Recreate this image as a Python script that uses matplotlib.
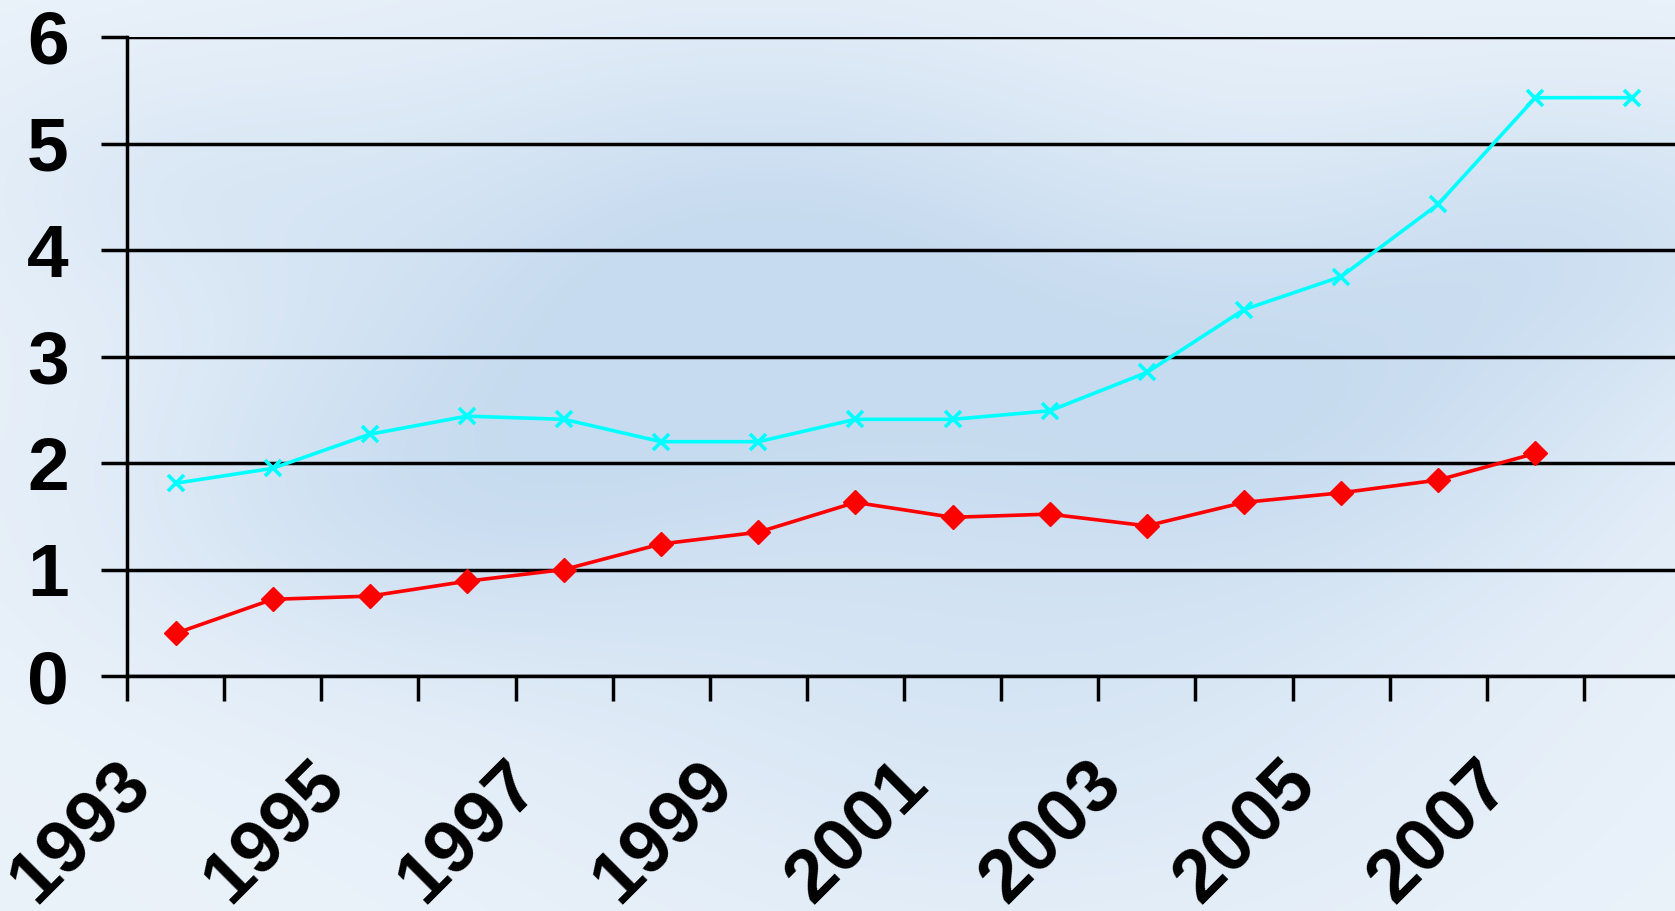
import numpy as np
import matplotlib
matplotlib.use("Agg")
import matplotlib.pyplot as plt
from matplotlib.transforms import ScaledTranslation

years = [str(y) for y in range(1993, 2009)]
cyan_values = [1.81, 1.95, 2.27, 2.44, 2.41, 2.20, 2.20, 2.41, 2.41, 2.49, 2.85, 3.44, 3.75, 4.43, 5.43, 5.43]
red_values = [0.40, 0.72, 0.75, 0.89, 1.00, 1.24, 1.35, 1.63, 1.49, 1.52, 1.41, 1.63, 1.72, 1.84, 2.09, np.nan]
y_ticks = [0, 1, 2, 3, 4, 5, 6]
label_years = [str(y) for y in range(1993, 2009, 2)]

plt.rcParams['font.family'] = ['Liberation Sans', 'DejaVu Sans']

W, H, DPI = 1675, 911, 100
fig = plt.figure(figsize=(W / DPI, H / DPI), dpi=DPI)

# background: soft light-blue sky-like gradient
yy, xx = np.mgrid[0:1:200j, 0:1:360j]
light = np.array([0.92, 0.95, 0.98])
blue = np.array([0.78, 0.86, 0.94])
field = np.zeros_like(xx)
blobs = [(0.45, 0.70, 0.18, 1.0), (0.78, 0.55, 0.15, 0.7), (0.25, 0.45, 0.14, 0.6),
         (0.60, 0.25, 0.20, 0.5), (0.95, 0.75, 0.12, 0.6), (0.10, 0.80, 0.10, 0.3)]
for cx, cy, r, a in blobs:
    field += a * np.exp(-((xx - cx) ** 2 + (yy - cy) ** 2) / (2 * r ** 2))
field = np.clip(field, 0, 1)
img = light[None, None, :] * (1 - field[..., None]) + blue[None, None, :] * field[..., None]
bg = fig.add_axes([0, 0, 1, 1], zorder=0)
bg.imshow(img, extent=[0, 1, 0, 1], origin='lower', aspect='auto', interpolation='bicubic')
bg.axis('off')

ax = fig.add_axes([127 / W, 1 - 676 / H, (1681 - 127) / W, (676 - 37) / H], zorder=1)
ax.patch.set_alpha(0)

x = np.arange(len(years))
lw = 2.6
ax.plot(x, cyan_values, color='#00ffff', lw=lw, marker='x', ms=11.5, mew=2.6, zorder=4, clip_on=False)
ax.plot(x, red_values, color='#ff0000', lw=lw, marker='D', ms=12, zorder=4, clip_on=False)

ax.set_xlim(-0.5, len(years) - 0.5)
ax.set_ylim(0, 6)

for s in ['top', 'right']:
    ax.spines[s].set_visible(False)
for s in ['left', 'bottom']:
    ax.spines[s].set_linewidth(2.5)
    ax.spines[s].set_color('black')

ax.set_yticks(y_ticks)
ax.set_yticklabels([str(t) for t in y_ticks], fontsize=54, fontweight='bold')
ax.tick_params(axis='y', length=19, width=2.5, pad=23, direction='out')
ax.yaxis.grid(True, color='black', lw=2.5, zorder=2)
ax.set_axisbelow(True)

ax.set_xticks(np.arange(-0.5, len(years), 1.0))
ax.set_xticklabels([])
ax.tick_params(axis='x', which='major', length=18, width=2.5, direction='out')
ax.set_xticks([years.index(y) for y in label_years], minor=True)
ax.set_xticklabels(label_years, minor=True, fontsize=54, fontweight='bold',
                   rotation=45, ha='right', va='top')
ax.tick_params(axis='x', which='minor', length=0, pad=52)
offset = ScaledTranslation(-12 / DPI, 0, fig.dpi_scale_trans)
for lab in ax.get_xticklabels(minor=True):
    lab.set_transform(lab.get_transform() + offset)

fig.savefig('out.png', dpi=DPI)
